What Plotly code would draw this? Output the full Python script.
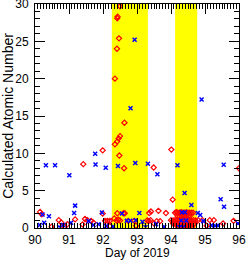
import plotly.graph_objects as go

# Data
red_day = [92.50, 92.43, 92.42, 92.47, 92.41, 92.35, 92.63, 92.50, 92.46, 92.42, 92.35,
           91.99, 92.48, 92.62, 91.42, 93.49, 94.01, 94.05, 96.00,
           90.15, 90.20, 90.49, 90.70, 90.77, 90.86, 90.95, 91.18, 91.40, 91.47, 91.54,
           91.65, 91.72, 91.99, 92.06, 92.13, 92.20, 92.20, 92.33, 92.40, 92.45, 92.50,
           92.42, 92.60, 92.64, 92.74, 92.92, 93.30, 93.35, 93.40, 93.36, 93.41, 93.63,
           93.85, 93.58, 93.68, 93.50, 92.97, 94.92, 95.14, 95.26, 95.53, 95.84, 95.05,
           94.12, 94.16, 94.20, 94.25, 94.30, 94.35, 94.40, 94.45, 94.50, 94.55, 94.60, 94.65,
           94.20, 94.26, 94.32, 94.38, 94.44, 94.50, 94.55,
           94.00, 94.06, 94.12, 94.18, 94.24, 94.30, 94.36, 94.42, 94.48, 94.54, 94.60, 94.66, 94.72, 94.80,
           94.06, 94.12, 94.18, 94.24, 94.30, 94.36, 94.42, 94.48, 94.54, 94.60, 94.66, 94.70,
           94.20, 94.26, 94.32, 94.38, 94.44, 94.50, 94.56, 94.62]
red_z = [29.7, 28.3, 28.1, 25.4, 24.0, 20.0, 14.1, 12.3, 12.0, 11.6, 11.2,
         10.4, 9.7, 8.0, 8.55, 8.1, 10.5, 3.8, 8.0,
         2.15, 1.84, 0.17, 1.05, 0.75, 0.17, 0.50, 1.15, 0.48, 1.20, 1.05,
         0.96, 0.70, 1.93, 0.96, 0.96, 0.96, 0.26, 1.27, 1.00, 1.10, 1.00,
         1.97, 1.97, 1.97, 0.96, 0.96, 1.00, 0.95, 1.05, 2.00, 2.20, 2.30,
         2.00, 0.92, 0.92, 0.60, 0.30, 1.05, 1.05, 1.05, 0.60, 0.96, 0.30,
         2.05, 2.10, 2.05, 2.05, 2.10, 2.05, 2.05, 2.10, 2.05, 2.05, 2.05, 2.05,
         1.58, 1.55, 1.58, 1.60, 1.55, 1.58, 1.58,
         1.05, 1.00, 1.05, 1.05, 1.00, 1.05, 1.05, 1.00, 1.05, 1.05, 1.00, 1.05, 1.00, 1.05,
         0.60, 0.55, 0.60, 0.60, 0.55, 0.60, 0.60, 0.55, 0.60, 0.60, 0.55, 0.60,
         0.17, 0.15, 0.17, 0.17, 0.15, 0.17, 0.17, 0.15]

blue_day = [92.93, 92.81, 94.90, 90.32, 90.59, 91.01, 91.77, 91.78, 92.08, 92.44, 92.95,
            93.32, 93.60, 94.19, 95.55, 94.40, 94.60, 95.46, 95.56, 91.18, 91.15, 90.41,
            90.22, 90.27, 90.14, 90.71, 90.83, 91.06, 91.58, 91.72, 91.87, 91.97, 92.09,
            92.56, 92.70, 92.80, 92.96, 93.07, 93.16, 93.56, 94.79, 94.86, 94.95, 95.19,
            95.38, 95.97, 94.32, 94.41, 94.30, 94.45, 94.25, 94.35, 92.30, 93.25, 93.80, 95.30]
blue_z = [25.2, 16.05, 17.2, 8.4, 8.4, 7.06, 9.95, 8.5, 8.07, 8.3, 8.7,
          8.6, 7.2, 8.4, 8.46, 4.7, 3.07, 3.86, 2.85, 3.0, 2.0, 1.58,
          1.80, 0.70, 0.40, 0.13, 0.40, 0.70, 0.92, 0.40, 0.49, 2.07, 0.26,
          1.93, 0.96, 0.96, 1.05, 2.0, 0.83, 0.52, 2.0, 1.75, 0.92, 0.35,
          0.35, 0.60, 2.1, 2.1, 1.0, 1.0, 0.1, 0.1, 0.2, 0.1, 0.15, 0.3]

bands = [(92.26, 93.32), (94.12, 94.77)]
x_ticks = [90, 91, 92, 93, 94, 95, 96]
y_ticks = [0, 5, 10, 15, 20, 25, 30]

fig = go.Figure()
for b0, b1 in bands:
    fig.add_shape(type="rect", xref="x", yref="paper", x0=b0, x1=b1, y0=0, y1=1,
                  fillcolor="#ffff00", line_width=0, layer="below")

fig.add_trace(go.Scatter(x=red_day, y=red_z, mode="markers",
                         marker=dict(symbol="diamond-open", size=4, color="#ff0000",
                                     line=dict(width=1.2, color="#ff0000")),
                         showlegend=False, cliponaxis=True))
fig.add_trace(go.Scatter(x=blue_day, y=blue_z, mode="markers",
                         marker=dict(symbol="x-thin-open", size=4, color="#0000ff",
                                     line=dict(width=1.5, color="#0000ff")),
                         showlegend=False, cliponaxis=True))

font = dict(family="Liberation Sans, Arial, sans-serif", size=12, color="black")
fig.add_annotation(text="Day of 2019", xref="paper", yref="paper", x=0.5, y=0,
                   xanchor="center", yanchor="top", yshift=-17, showarrow=False,
                   font=font, borderpad=0)
fig.update_layout(
    width=246, height=261,
    margin=dict(l=35, r=7, t=4, b=33, autoexpand=False),
    paper_bgcolor="white", plot_bgcolor="white",
    font=font,
    xaxis=dict(range=[90, 96], tickvals=x_ticks, ticks="inside", ticklen=10, tickwidth=1,
               tickcolor="black", showline=True, linecolor="black", linewidth=1,
               mirror="ticks", showgrid=False, zeroline=False, automargin=False,
               ticklabeloverflow="allow", ticklabelstandoff=1,
               minor=dict(dtick=1/12, ticks="inside", ticklen=5, tickcolor="black", tickwidth=1, showgrid=False),
               tickfont=font),
    yaxis=dict(range=[0, 30], tickvals=y_ticks, ticks="inside", ticklen=10, tickwidth=1,
               tickcolor="black", showline=True, linecolor="black", linewidth=1,
               mirror="ticks", showgrid=False, zeroline=False, automargin=False,
               ticklabeloverflow="allow", ticklabelstandoff=3,
               minor=dict(dtick=1, ticks="inside", ticklen=5, tickcolor="black", tickwidth=1, showgrid=False),
               title=dict(text="Calculated Atomic Number", standoff=4), tickfont=font),
)
fig.write_html("out.html", config={"displayModeBar": False},
               post_script="document.body.style.margin='0';document.body.style.overflow='hidden';")
